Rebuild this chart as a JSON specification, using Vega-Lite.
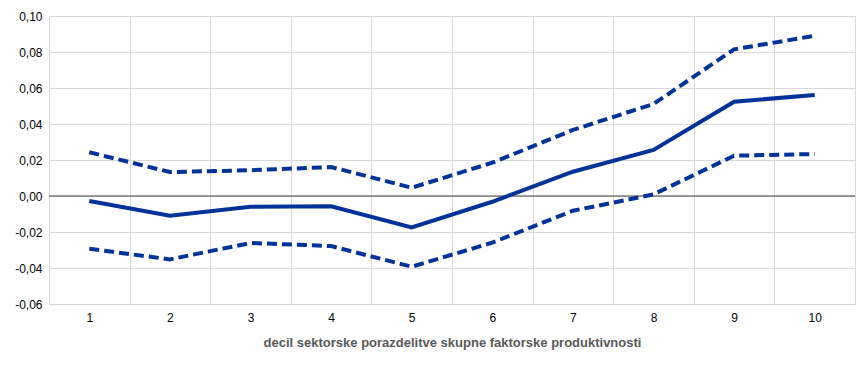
{
  "$schema": "https://vega.github.io/schema/vega-lite/v6.json",
  "width": 806,
  "height": 288,
  "autosize": "none",
  "padding": {"left": 49, "top": 16, "right": 13, "bottom": 62},
  "config": {
    "locale": {"number": {"decimal": ",", "thousands": ".", "grouping": [3], "currency": ["", " €"], "minus": "-"}},
    "view": {"stroke": "#d9d9d9", "strokeWidth": 1},
    "font": "Liberation Sans"
  },
  "data": {
    "values": [
      {"decil": "1", "series": "mid", "value": -0.0028},
      {"decil": "2", "series": "mid", "value": -0.011},
      {"decil": "3", "series": "mid", "value": -0.006},
      {"decil": "4", "series": "mid", "value": -0.0057},
      {"decil": "5", "series": "mid", "value": -0.0174},
      {"decil": "6", "series": "mid", "value": -0.0032},
      {"decil": "7", "series": "mid", "value": 0.0135},
      {"decil": "8", "series": "mid", "value": 0.0256},
      {"decil": "9", "series": "mid", "value": 0.0524},
      {"decil": "10", "series": "mid", "value": 0.0561},
      {"decil": "1", "series": "upper", "value": 0.0243},
      {"decil": "2", "series": "upper", "value": 0.0133},
      {"decil": "3", "series": "upper", "value": 0.0143},
      {"decil": "4", "series": "upper", "value": 0.0161},
      {"decil": "5", "series": "upper", "value": 0.0046},
      {"decil": "6", "series": "upper", "value": 0.0185},
      {"decil": "7", "series": "upper", "value": 0.0367},
      {"decil": "8", "series": "upper", "value": 0.0511},
      {"decil": "9", "series": "upper", "value": 0.0815},
      {"decil": "10", "series": "upper", "value": 0.089},
      {"decil": "1", "series": "lower", "value": -0.0293},
      {"decil": "2", "series": "lower", "value": -0.0352},
      {"decil": "3", "series": "lower", "value": -0.0261},
      {"decil": "4", "series": "lower", "value": -0.0278},
      {"decil": "5", "series": "lower", "value": -0.0393},
      {"decil": "6", "series": "lower", "value": -0.0259},
      {"decil": "7", "series": "lower", "value": -0.0082},
      {"decil": "8", "series": "lower", "value": 0.0009},
      {"decil": "9", "series": "lower", "value": 0.0224},
      {"decil": "10", "series": "lower", "value": 0.0233}
    ]
  },
  "encoding": {
    "x": {
      "field": "decil", "type": "ordinal", "sort": null,
      "scale": {"paddingInner": 0, "paddingOuter": 0},
      "axis": {
        "title": "decil sektorske porazdelitve skupne faktorske produktivnosti",
        "titleFont": "Liberation Sans", "titleFontSize": 13, "titleFontWeight": "bold", "titleColor": "#595959",
        "titlePadding": 13,
        "labelAngle": 0, "labelFont": "Liberation Sans", "labelFontSize": 12, "labelColor": "#000000",
        "labelPadding": 8, "ticks": false, "domain": false,
        "grid": true, "gridColor": "#d9d9d9", "tickBand": "extent"
      }
    },
    "y": {
      "field": "value", "type": "quantitative",
      "scale": {"domain": [-0.06, 0.1], "nice": false},
      "axis": {
        "title": null, "values": [-0.06, -0.04, -0.02, 0, 0.02, 0.04, 0.06, 0.08, 0.1],
        "format": ".2f", "labelFont": "Liberation Sans", "labelFontSize": 12, "labelColor": "#000000",
        "labelPadding": 7, "ticks": false, "domain": false,
        "grid": true, "gridColor": "#d9d9d9"
      }
    }
  },
  "layer": [
    {
      "data": {"values": [{"zero": 0}]},
      "mark": {"type": "rule", "color": "#404040", "strokeWidth": 1},
      "encoding": {"y": {"field": "zero", "type": "quantitative"}, "x": null}
    },
    {
      "transform": [{"filter": "datum.series !== 'mid'"}],
      "mark": {"type": "line", "color": "#003299", "strokeWidth": 4, "strokeDash": [10, 5]},
      "encoding": {"detail": {"field": "series"}}
    },
    {
      "transform": [{"filter": "datum.series === 'mid'"}],
      "mark": {"type": "line", "color": "#003299", "strokeWidth": 4}
    }
  ]
}
